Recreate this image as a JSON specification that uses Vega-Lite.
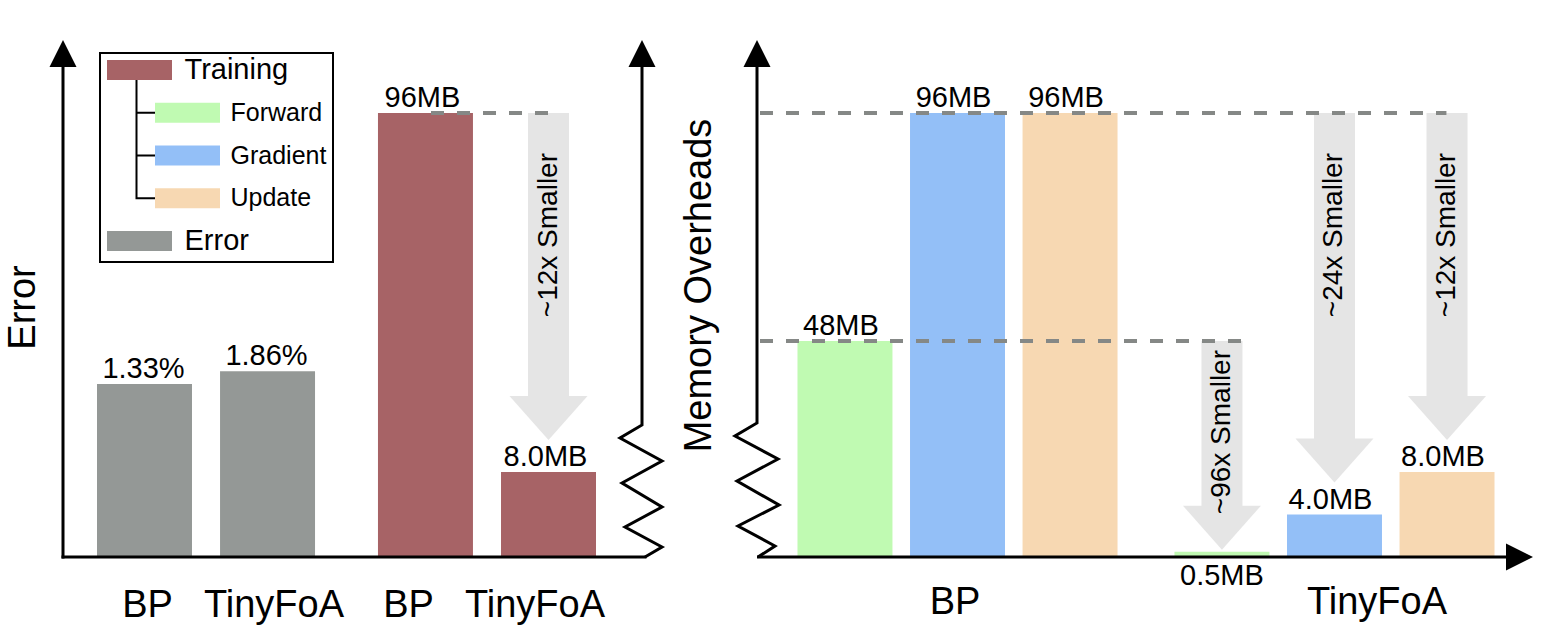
{
"$schema": "https://vega.github.io/schema/vega-lite/v6.json",
"width": 1562,
"height": 632,
"padding": 0,
"autosize": {"type": "none"},
"background": "white",
"config": {"view": {"stroke": null}, "text": {"font": "Liberation Sans", "color": "black"}},
"datasets": {
  "left": [
    {"metric": "Error", "method": "BP", "kind": "Error", "value": 1.33, "label": "1.33%"},
    {"metric": "Error", "method": "TinyFoA", "kind": "Error", "value": 1.86, "label": "1.86%"},
    {"metric": "Training", "method": "BP", "kind": "Training", "value": 96, "label": "96MB"},
    {"metric": "Training", "method": "TinyFoA", "kind": "Training", "value": 8, "label": "8.0MB"}
  ],
  "right": [
    {"method": "BP", "kind": "Forward", "value": 48, "label": "48MB"},
    {"method": "BP", "kind": "Gradient", "value": 96, "label": "96MB"},
    {"method": "BP", "kind": "Update", "value": 96, "label": "96MB"},
    {"method": "TinyFoA", "kind": "Forward", "value": 0.5, "label": "0.5MB"},
    {"method": "TinyFoA", "kind": "Gradient", "value": 4, "label": "4.0MB"},
    {"method": "TinyFoA", "kind": "Update", "value": 8, "label": "8.0MB"}
  ],
  "arrows": [
    {"panel": "left", "metric": "Training", "method": "TinyFoA", "kind": "Training", "from": 96, "to": 8, "label": "~12x Smaller"},
    {"panel": "right", "method": "TinyFoA", "kind": "Forward", "from": 48, "to": 0.5, "label": "~96x Smaller"},
    {"panel": "right", "method": "TinyFoA", "kind": "Gradient", "from": 96, "to": 4, "label": "~24x Smaller"},
    {"panel": "right", "method": "TinyFoA", "kind": "Update", "from": 96, "to": 8, "label": "~12x Smaller"}
  ],
  "legend": [
    {"kind": "Training", "level": "top"},
    {"kind": "Forward", "level": "sub"},
    {"kind": "Gradient", "level": "sub"},
    {"kind": "Update", "level": "sub"},
    {"kind": "Error", "level": "top"}
  ],
  "frame": [{}]
},
"resolve": {"scale": {"x": "independent", "y": "independent", "xOffset": "independent"}},
"layer": [
  {
    "data": {"name": "left"},
    "transform": [{"filter": "datum.metric === 'Error'"}],
    "mark": {"type": "bar"},
    "encoding": {
      "x": {"field": "metric", "type": "nominal", "scale": {"type": "band", "domain": ["Error", "Training"], "range": [63, 630], "paddingInner": 0.224, "paddingOuter": 0.121}, "axis": null},
      "xOffset": {"field": "method", "type": "nominal", "scale": {"type": "band", "domain": ["BP", "TinyFoA"], "paddingInner": 0.228, "paddingOuter": 0}},
      "y": {"field": "value", "type": "quantitative", "scale": {"domain": [0, 1, 2], "range": [557, 392, 368], "nice": false, "zero": false}, "axis": null},
      "color": {"field": "kind", "type": "nominal", "scale": {"domain": ["Training", "Forward", "Gradient", "Update", "Error"], "range": ["#a76366", "#c0fab2", "#93bff7", "#f7d8b2", "#949896"]}, "legend": null}
    }
  },
  {
    "data": {"name": "left"},
    "transform": [{"filter": "datum.metric === 'Error'"}],
    "mark": {"type": "text", "fontSize": 29, "dy": -6, "dx": -1, "baseline": "alphabetic", "align": "center"},
    "encoding": {
      "x": {"field": "metric", "type": "nominal", "scale": {"type": "band", "domain": ["Error", "Training"], "range": [63, 630], "paddingInner": 0.224, "paddingOuter": 0.121}, "axis": null},
      "xOffset": {"field": "method", "type": "nominal", "scale": {"type": "band", "domain": ["BP", "TinyFoA"], "paddingInner": 0.228, "paddingOuter": 0}},
      "y": {"field": "value", "type": "quantitative", "scale": {"domain": [0, 1, 2], "range": [557, 392, 368], "nice": false, "zero": false}, "axis": null},
      "text": {"field": "label"}
    }
  },
  {
    "data": {"name": "left"},
    "transform": [{"filter": "datum.metric === 'Training'"}],
    "mark": {"type": "bar"},
    "encoding": {
      "x": {"field": "metric", "type": "nominal", "scale": {"type": "band", "domain": ["Error", "Training"], "range": [63, 630], "paddingInner": 0.224, "paddingOuter": 0.121}, "axis": null},
      "xOffset": {"field": "method", "type": "nominal", "scale": {"type": "band", "domain": ["BP", "TinyFoA"], "paddingInner": 0.228, "paddingOuter": 0}},
      "y": {"field": "value", "type": "quantitative", "scale": {"domain": [0, 8, 48, 96], "range": [557, 472, 341, 113], "nice": false, "zero": false}, "axis": null},
      "color": {"field": "kind", "type": "nominal", "scale": {"domain": ["Training", "Forward", "Gradient", "Update", "Error"], "range": ["#a76366", "#c0fab2", "#93bff7", "#f7d8b2", "#949896"]}, "legend": null}
    }
  },
  {
    "data": {"name": "left"},
    "transform": [{"filter": "datum.metric === 'Training'"}],
    "mark": {"type": "text", "fontSize": 29, "dy": -6, "dx": -3, "baseline": "alphabetic", "align": "center"},
    "encoding": {
      "x": {"field": "metric", "type": "nominal", "scale": {"type": "band", "domain": ["Error", "Training"], "range": [63, 630], "paddingInner": 0.224, "paddingOuter": 0.121}, "axis": null},
      "xOffset": {"field": "method", "type": "nominal", "scale": {"type": "band", "domain": ["BP", "TinyFoA"], "paddingInner": 0.228, "paddingOuter": 0}},
      "y": {"field": "value", "type": "quantitative", "scale": {"domain": [0, 8, 48, 96], "range": [557, 472, 341, 113], "nice": false, "zero": false}, "axis": null},
      "text": {"field": "label"}
    }
  },
  {
    "data": {"name": "arrows"},
    "transform": [{"filter": "datum.panel === 'left'"}],
    "mark": {"type": "rule", "strokeWidth": 41, "color": "#e5e5e5", "y2Offset": -75},
    "encoding": {
      "x": {"field": "metric", "type": "nominal", "scale": {"type": "band", "domain": ["Error", "Training"], "range": [63, 630], "paddingInner": 0.224, "paddingOuter": 0.121}, "axis": null},
      "xOffset": {"field": "method", "type": "nominal", "scale": {"type": "band", "domain": ["BP", "TinyFoA"], "paddingInner": 0.228, "paddingOuter": 0}},
      "y": {"field": "from", "type": "quantitative", "scale": {"domain": [0, 8, 48, 96], "range": [557, 472, 341, 113], "nice": false, "zero": false}, "axis": null},
      "y2": {"field": "to"}
    }
  },
  {
    "data": {"name": "arrows"},
    "transform": [{"filter": "datum.panel === 'left'"}],
    "mark": {"type": "point", "shape": "M-39,-44H39L0,0Z", "size": 4, "filled": true, "color": "#e5e5e5", "opacity": 1, "yOffset": -32},
    "encoding": {
      "x": {"field": "metric", "type": "nominal", "scale": {"type": "band", "domain": ["Error", "Training"], "range": [63, 630], "paddingInner": 0.224, "paddingOuter": 0.121}, "axis": null},
      "xOffset": {"field": "method", "type": "nominal", "scale": {"type": "band", "domain": ["BP", "TinyFoA"], "paddingInner": 0.228, "paddingOuter": 0}},
      "y": {"field": "to", "type": "quantitative", "scale": {"domain": [0, 8, 48, 96], "range": [557, 472, 341, 113], "nice": false, "zero": false}, "axis": null}
    }
  },
  {
    "data": {"name": "arrows"},
    "transform": [{"filter": "datum.panel === 'left'"}],
    "mark": {"type": "text", "fontSize": 28, "angle": 270, "align": "right", "baseline": "middle", "yOffset": 40, "xOffset": 5},
    "encoding": {
      "x": {"field": "metric", "type": "nominal", "scale": {"type": "band", "domain": ["Error", "Training"], "range": [63, 630], "paddingInner": 0.224, "paddingOuter": 0.121}, "axis": null},
      "xOffset": {"field": "method", "type": "nominal", "scale": {"type": "band", "domain": ["BP", "TinyFoA"], "paddingInner": 0.228, "paddingOuter": 0}},
      "y": {"field": "from", "type": "quantitative", "scale": {"domain": [0, 8, 48, 96], "range": [557, 472, 341, 113], "nice": false, "zero": false}, "axis": null},
      "text": {"field": "label"}
    }
  },
  {
    "data": {"name": "frame"},
    "mark": {"type": "rule", "strokeWidth": 4, "color": "#858886", "strokeDash": [13, 13]},
    "encoding": {
      "x": {"datum": 0.6356, "type": "quantitative", "scale": {"domain": [0, 1], "range": [63, 642], "nice": false, "zero": false}, "axis": null},
      "x2": {"datum": 0.841},
      "y": {"datum": 96, "type": "quantitative", "scale": {"domain": [0, 8, 48, 96], "range": [557, 472, 341, 113], "nice": false, "zero": false}, "axis": null}
    }
  },
  {
    "data": {"name": "left"},
    "mark": {"type": "text", "fontSize": 38, "dy": 60, "baseline": "alphabetic", "align": "center"},
    "encoding": {
      "x": {"field": "metric", "type": "nominal", "scale": {"type": "band", "domain": ["Error", "Training"], "range": [63, 619.5], "paddingInner": 0.1276, "paddingOuter": 0.13}, "axis": null},
      "xOffset": {"field": "method", "type": "nominal", "scale": {"type": "band", "domain": ["BP", "TinyFoA"], "paddingInner": 0.2, "paddingOuter": 0}},
      "y": {"datum": 0, "type": "quantitative", "scale": {"domain": [0, 8, 48, 96], "range": [557, 472, 341, 113], "nice": false, "zero": false}, "axis": null},
      "text": {"field": "method"}
    }
  },
  {
    "data": {"name": "frame"},
    "mark": {"type": "rule", "strokeWidth": 3, "color": "black", "strokeCap": "square", "y2Offset": 15},
    "encoding": {
      "x": {"datum": 0, "type": "quantitative", "scale": {"domain": [0, 1], "range": [63, 642], "nice": false, "zero": false}, "axis": null},
      "y": {"datum": 0, "type": "quantitative", "scale": {"domain": [0, 1], "range": [557, 40], "nice": false, "zero": false}, "axis": null},
      "y2": {"datum": 1}
    }
  },
  {
    "data": {"name": "frame"},
    "mark": {"type": "rule", "strokeWidth": 3, "color": "black", "strokeCap": "square", "x2Offset": 3},
    "encoding": {
      "x": {"datum": 0, "type": "quantitative", "scale": {"domain": [0, 1], "range": [63, 642], "nice": false, "zero": false}, "axis": null},
      "x2": {"datum": 1},
      "y": {"datum": 0, "type": "quantitative", "scale": {"domain": [0, 1], "range": [557, 40], "nice": false, "zero": false}, "axis": null}
    }
  },
  {
    "data": {"name": "frame"},
    "mark": {"type": "point", "shape": "M0,-500V-132L-22,-119L20,-96L-20,-74L20,-50L-17,-30L20,-10L3,0", "size": 4, "filled": false, "stroke": "black", "strokeWidth": 3, "opacity": 1, "strokeJoin": "miter"},
    "encoding": {
      "x": {"datum": 1, "type": "quantitative", "scale": {"domain": [0, 1], "range": [63, 642], "nice": false, "zero": false}, "axis": null},
      "y": {"datum": 0, "type": "quantitative", "scale": {"domain": [0, 1], "range": [557, 40], "nice": false, "zero": false}, "axis": null}
    }
  },
  {
    "data": {"name": "frame"},
    "mark": {"type": "point", "shape": "M0,0L13.5,27H-13.5Z", "size": 4, "filled": true, "color": "black", "opacity": 1},
    "encoding": {
      "x": {"datum": 0, "type": "quantitative", "scale": {"domain": [0, 1], "range": [63, 642], "nice": false, "zero": false}, "axis": null},
      "y": {"datum": 1, "type": "quantitative", "scale": {"domain": [0, 1], "range": [557, 40], "nice": false, "zero": false}, "axis": null}
    }
  },
  {
    "data": {"name": "frame"},
    "mark": {"type": "point", "shape": "M0,0L13.5,27H-13.5Z", "size": 4, "filled": true, "color": "black", "opacity": 1},
    "encoding": {
      "x": {"datum": 1, "type": "quantitative", "scale": {"domain": [0, 1], "range": [63, 642], "nice": false, "zero": false}, "axis": null},
      "y": {"datum": 1, "type": "quantitative", "scale": {"domain": [0, 1], "range": [557, 40], "nice": false, "zero": false}, "axis": null}
    }
  },
  {
    "data": {"name": "frame"},
    "mark": {"type": "text", "text": "Error", "fontSize": 38, "angle": 270, "align": "center", "baseline": "middle", "xOffset": -39, "yOffset": 9},
    "encoding": {
      "x": {"datum": 0, "type": "quantitative", "scale": {"domain": [0, 1], "range": [63, 642], "nice": false, "zero": false}, "axis": null},
      "y": {"datum": 0.5, "type": "quantitative", "scale": {"domain": [0, 1], "range": [557, 40], "nice": false, "zero": false}, "axis": null}
    }
  },
  {
    "data": {"name": "legend"},
    "transform": [{"filter": "datum.kind === 'Training'"}],
    "mark": {"type": "point", "shape": "M-39.5,-17H193.5V192H-39.5Z", "size": 4, "filled": false, "stroke": "black", "strokeWidth": 2, "opacity": 1},
    "encoding": {
      "x": {"field": "level", "type": "nominal", "scale": {"type": "point", "domain": ["top", "sub"], "range": [139.5, 187.5], "padding": 0}, "axis": null},
      "y": {"field": "kind", "type": "nominal", "scale": {"type": "point", "domain": ["Training", "Forward", "Gradient", "Update", "Error"], "range": [70, 241], "padding": 0}, "axis": null}
    }
  },
  {
    "data": {"name": "legend"},
    "transform": [{"filter": "datum.kind === 'Training'"}],
    "mark": {"type": "point", "shape": "M-3,10V128.25H15.5M-3,42.75H15.5M-3,85.5H15.5", "size": 4, "filled": false, "stroke": "black", "strokeWidth": 2, "opacity": 1},
    "encoding": {
      "x": {"field": "level", "type": "nominal", "scale": {"type": "point", "domain": ["top", "sub"], "range": [139.5, 187.5], "padding": 0}, "axis": null},
      "y": {"field": "kind", "type": "nominal", "scale": {"type": "point", "domain": ["Training", "Forward", "Gradient", "Update", "Error"], "range": [70, 241], "padding": 0}, "axis": null}
    }
  },
  {
    "data": {"name": "legend"},
    "mark": {"type": "point", "shape": "M-32.5,-10H32.5V10H-32.5Z", "size": 4, "filled": true, "opacity": 1},
    "encoding": {
      "x": {"field": "level", "type": "nominal", "scale": {"type": "point", "domain": ["top", "sub"], "range": [139.5, 187.5], "padding": 0}, "axis": null},
      "y": {"field": "kind", "type": "nominal", "scale": {"type": "point", "domain": ["Training", "Forward", "Gradient", "Update", "Error"], "range": [70, 241], "padding": 0}, "axis": null},
      "color": {"field": "kind", "type": "nominal", "scale": {"domain": ["Training", "Forward", "Gradient", "Update", "Error"], "range": ["#a76366", "#c0fab2", "#93bff7", "#f7d8b2", "#949896"]}, "legend": null}
    }
  },
  {
    "data": {"name": "legend"},
    "transform": [{"filter": "datum.level === 'top'"}],
    "mark": {"type": "text", "fontSize": 29, "align": "left", "baseline": "middle", "dx": 45},
    "encoding": {
      "x": {"field": "level", "type": "nominal", "scale": {"type": "point", "domain": ["top", "sub"], "range": [139.5, 187.5], "padding": 0}, "axis": null},
      "y": {"field": "kind", "type": "nominal", "scale": {"type": "point", "domain": ["Training", "Forward", "Gradient", "Update", "Error"], "range": [70, 241], "padding": 0}, "axis": null},
      "text": {"field": "kind"}
    }
  },
  {
    "data": {"name": "legend"},
    "transform": [{"filter": "datum.level === 'sub'"}],
    "mark": {"type": "text", "fontSize": 25, "align": "left", "baseline": "middle", "dx": 43},
    "encoding": {
      "x": {"field": "level", "type": "nominal", "scale": {"type": "point", "domain": ["top", "sub"], "range": [139.5, 187.5], "padding": 0}, "axis": null},
      "y": {"field": "kind", "type": "nominal", "scale": {"type": "point", "domain": ["Training", "Forward", "Gradient", "Update", "Error"], "range": [70, 241], "padding": 0}, "axis": null},
      "text": {"field": "kind"}
    }
  },
  {
    "data": {"name": "right"},
    "mark": {"type": "bar"},
    "encoding": {
      "x": {"field": "method", "type": "nominal", "scale": {"type": "band", "domain": ["BP", "TinyFoA"], "range": [757, 1535], "paddingInner": 0.151, "paddingOuter": 0.1074}, "axis": null},
      "xOffset": {"field": "kind", "type": "nominal", "scale": {"type": "band", "domain": ["Forward", "Gradient", "Update"], "paddingInner": 0.156, "paddingOuter": 0}},
      "y": {"field": "value", "type": "quantitative", "scale": {"domain": [0, 8, 48, 96], "range": [557, 472, 341, 113], "nice": false, "zero": false}, "axis": null},
      "color": {"field": "kind", "type": "nominal", "scale": {"domain": ["Training", "Forward", "Gradient", "Update", "Error"], "range": ["#a76366", "#c0fab2", "#93bff7", "#f7d8b2", "#949896"]}, "legend": null}
    }
  },
  {
    "data": {"name": "right"},
    "transform": [{"filter": "datum.value >= 1"}],
    "mark": {"type": "text", "fontSize": 29, "dy": -6, "dx": -4, "baseline": "alphabetic", "align": "center"},
    "encoding": {
      "x": {"field": "method", "type": "nominal", "scale": {"type": "band", "domain": ["BP", "TinyFoA"], "range": [757, 1535], "paddingInner": 0.151, "paddingOuter": 0.1074}, "axis": null},
      "xOffset": {"field": "kind", "type": "nominal", "scale": {"type": "band", "domain": ["Forward", "Gradient", "Update"], "paddingInner": 0.156, "paddingOuter": 0}},
      "y": {"field": "value", "type": "quantitative", "scale": {"domain": [0, 8, 48, 96], "range": [557, 472, 341, 113], "nice": false, "zero": false}, "axis": null},
      "text": {"field": "label"}
    }
  },
  {
    "data": {"name": "right"},
    "transform": [{"filter": "datum.value < 1"}],
    "mark": {"type": "text", "fontSize": 29, "dy": 33, "baseline": "alphabetic", "align": "center"},
    "encoding": {
      "x": {"field": "method", "type": "nominal", "scale": {"type": "band", "domain": ["BP", "TinyFoA"], "range": [757, 1535], "paddingInner": 0.151, "paddingOuter": 0.1074}, "axis": null},
      "xOffset": {"field": "kind", "type": "nominal", "scale": {"type": "band", "domain": ["Forward", "Gradient", "Update"], "paddingInner": 0.156, "paddingOuter": 0}},
      "y": {"field": "value", "type": "quantitative", "scale": {"domain": [0, 8, 48, 96], "range": [557, 472, 341, 113], "nice": false, "zero": false}, "axis": null},
      "text": {"field": "label"}
    }
  },
  {
    "data": {"name": "arrows"},
    "transform": [{"filter": "datum.panel === 'right' && datum.to >= 1"}],
    "mark": {"type": "rule", "strokeWidth": 41, "color": "#e5e5e5", "y2Offset": -75},
    "encoding": {
      "x": {"field": "method", "type": "nominal", "scale": {"type": "band", "domain": ["BP", "TinyFoA"], "range": [757, 1535], "paddingInner": 0.151, "paddingOuter": 0.1074}, "axis": null},
      "xOffset": {"field": "kind", "type": "nominal", "scale": {"type": "band", "domain": ["Forward", "Gradient", "Update"], "paddingInner": 0.156, "paddingOuter": 0}},
      "y": {"field": "from", "type": "quantitative", "scale": {"domain": [0, 8, 48, 96], "range": [557, 472, 341, 113], "nice": false, "zero": false}, "axis": null},
      "y2": {"field": "to"}
    }
  },
  {
    "data": {"name": "arrows"},
    "transform": [{"filter": "datum.panel === 'right' && datum.to >= 1"}],
    "mark": {"type": "point", "shape": "M-39,-44H39L0,0Z", "size": 4, "filled": true, "color": "#e5e5e5", "opacity": 1, "yOffset": -32},
    "encoding": {
      "x": {"field": "method", "type": "nominal", "scale": {"type": "band", "domain": ["BP", "TinyFoA"], "range": [757, 1535], "paddingInner": 0.151, "paddingOuter": 0.1074}, "axis": null},
      "xOffset": {"field": "kind", "type": "nominal", "scale": {"type": "band", "domain": ["Forward", "Gradient", "Update"], "paddingInner": 0.156, "paddingOuter": 0}},
      "y": {"field": "to", "type": "quantitative", "scale": {"domain": [0, 8, 48, 96], "range": [557, 472, 341, 113], "nice": false, "zero": false}, "axis": null}
    }
  },
  {
    "data": {"name": "arrows"},
    "transform": [{"filter": "datum.panel === 'right' && datum.to < 1"}],
    "mark": {"type": "rule", "strokeWidth": 41, "color": "#e5e5e5", "y2Offset": -45},
    "encoding": {
      "x": {"field": "method", "type": "nominal", "scale": {"type": "band", "domain": ["BP", "TinyFoA"], "range": [757, 1535], "paddingInner": 0.151, "paddingOuter": 0.1074}, "axis": null},
      "xOffset": {"field": "kind", "type": "nominal", "scale": {"type": "band", "domain": ["Forward", "Gradient", "Update"], "paddingInner": 0.156, "paddingOuter": 0}},
      "y": {"field": "from", "type": "quantitative", "scale": {"domain": [0, 8, 48, 96], "range": [557, 472, 341, 113], "nice": false, "zero": false}, "axis": null},
      "y2": {"field": "to"}
    }
  },
  {
    "data": {"name": "arrows"},
    "transform": [{"filter": "datum.panel === 'right' && datum.to < 1"}],
    "mark": {"type": "point", "shape": "M-39,-44H39L0,0Z", "size": 4, "filled": true, "color": "#e5e5e5", "opacity": 1, "yOffset": -2},
    "encoding": {
      "x": {"field": "method", "type": "nominal", "scale": {"type": "band", "domain": ["BP", "TinyFoA"], "range": [757, 1535], "paddingInner": 0.151, "paddingOuter": 0.1074}, "axis": null},
      "xOffset": {"field": "kind", "type": "nominal", "scale": {"type": "band", "domain": ["Forward", "Gradient", "Update"], "paddingInner": 0.156, "paddingOuter": 0}},
      "y": {"field": "to", "type": "quantitative", "scale": {"domain": [0, 8, 48, 96], "range": [557, 472, 341, 113], "nice": false, "zero": false}, "axis": null}
    }
  },
  {
    "data": {"name": "arrows"},
    "transform": [{"filter": "datum.panel === 'right' && datum.to >= 1"}],
    "mark": {"type": "text", "fontSize": 28, "angle": 270, "align": "right", "baseline": "middle", "yOffset": 40, "xOffset": 5},
    "encoding": {
      "x": {"field": "method", "type": "nominal", "scale": {"type": "band", "domain": ["BP", "TinyFoA"], "range": [757, 1535], "paddingInner": 0.151, "paddingOuter": 0.1074}, "axis": null},
      "xOffset": {"field": "kind", "type": "nominal", "scale": {"type": "band", "domain": ["Forward", "Gradient", "Update"], "paddingInner": 0.156, "paddingOuter": 0}},
      "y": {"field": "from", "type": "quantitative", "scale": {"domain": [0, 8, 48, 96], "range": [557, 472, 341, 113], "nice": false, "zero": false}, "axis": null},
      "text": {"field": "label"}
    }
  },
  {
    "data": {"name": "arrows"},
    "transform": [{"filter": "datum.panel === 'right' && datum.to < 1"}],
    "mark": {"type": "text", "fontSize": 28, "angle": 270, "align": "right", "baseline": "middle", "yOffset": 9, "xOffset": 3},
    "encoding": {
      "x": {"field": "method", "type": "nominal", "scale": {"type": "band", "domain": ["BP", "TinyFoA"], "range": [757, 1535], "paddingInner": 0.151, "paddingOuter": 0.1074}, "axis": null},
      "xOffset": {"field": "kind", "type": "nominal", "scale": {"type": "band", "domain": ["Forward", "Gradient", "Update"], "paddingInner": 0.156, "paddingOuter": 0}},
      "y": {"field": "from", "type": "quantitative", "scale": {"domain": [0, 8, 48, 96], "range": [557, 472, 341, 113], "nice": false, "zero": false}, "axis": null},
      "text": {"field": "label"}
    }
  },
  {
    "data": {"name": "frame"},
    "mark": {"type": "rule", "strokeWidth": 4, "color": "#858886", "strokeDash": [13, 13]},
    "encoding": {
      "x": {"datum": 0, "type": "quantitative", "scale": {"domain": [0, 1], "range": [760, 1533], "nice": false, "zero": false}, "axis": null},
      "x2": {"datum": 0.888},
      "y": {"datum": 96, "type": "quantitative", "scale": {"domain": [0, 8, 48, 96], "range": [557, 472, 341, 113], "nice": false, "zero": false}, "axis": null}
    }
  },
  {
    "data": {"name": "frame"},
    "mark": {"type": "rule", "strokeWidth": 4, "color": "#858886", "strokeDash": [13, 13]},
    "encoding": {
      "x": {"datum": 0, "type": "quantitative", "scale": {"domain": [0, 1], "range": [760, 1533], "nice": false, "zero": false}, "axis": null},
      "x2": {"datum": 0.6235},
      "y": {"datum": 48, "type": "quantitative", "scale": {"domain": [0, 8, 48, 96], "range": [557, 472, 341, 113], "nice": false, "zero": false}, "axis": null}
    }
  },
  {
    "data": {"name": "right"},
    "transform": [{"filter": "datum.kind === 'Gradient'"}],
    "mark": {"type": "text", "fontSize": 38, "dy": 57, "baseline": "alphabetic", "align": "center"},
    "encoding": {
      "x": {"field": "method", "type": "nominal", "scale": {"type": "point", "domain": ["BP", "TinyFoA"], "range": [955, 1377], "padding": 0}, "axis": null},
      "y": {"datum": 0, "type": "quantitative", "scale": {"domain": [0, 8, 48, 96], "range": [557, 472, 341, 113], "nice": false, "zero": false}, "axis": null},
      "text": {"field": "method"}
    }
  },
  {
    "data": {"name": "frame"},
    "mark": {"type": "point", "shape": "M0,-500V-134L-22,-121L21,-98L-20,-76L22,-52L-19,-31L18,-11L1,0", "size": 4, "filled": false, "stroke": "black", "strokeWidth": 3, "opacity": 1, "strokeJoin": "miter"},
    "encoding": {
      "x": {"datum": 0, "type": "quantitative", "scale": {"domain": [0, 1], "range": [757, 1533], "nice": false, "zero": false}, "axis": null},
      "y": {"datum": 0, "type": "quantitative", "scale": {"domain": [0, 1], "range": [557, 40], "nice": false, "zero": false}, "axis": null}
    }
  },
  {
    "data": {"name": "frame"},
    "mark": {"type": "rule", "strokeWidth": 3, "color": "black", "x2Offset": -20},
    "encoding": {
      "x": {"datum": 0, "type": "quantitative", "scale": {"domain": [0, 1], "range": [757, 1533], "nice": false, "zero": false}, "axis": null},
      "x2": {"datum": 1},
      "y": {"datum": 0, "type": "quantitative", "scale": {"domain": [0, 1], "range": [557, 40], "nice": false, "zero": false}, "axis": null}
    }
  },
  {
    "data": {"name": "frame"},
    "mark": {"type": "point", "shape": "M0,0L13.5,27H-13.5Z", "size": 4, "filled": true, "color": "black", "opacity": 1},
    "encoding": {
      "x": {"datum": 0, "type": "quantitative", "scale": {"domain": [0, 1], "range": [757, 1533], "nice": false, "zero": false}, "axis": null},
      "y": {"datum": 1, "type": "quantitative", "scale": {"domain": [0, 1], "range": [557, 40], "nice": false, "zero": false}, "axis": null}
    }
  },
  {
    "data": {"name": "frame"},
    "mark": {"type": "point", "shape": "M0,0L-27,-13.5V13.5Z", "size": 4, "filled": true, "color": "black", "opacity": 1},
    "encoding": {
      "x": {"datum": 1, "type": "quantitative", "scale": {"domain": [0, 1], "range": [757, 1533], "nice": false, "zero": false}, "axis": null},
      "y": {"datum": 0, "type": "quantitative", "scale": {"domain": [0, 1], "range": [557, 40], "nice": false, "zero": false}, "axis": null}
    }
  },
  {
    "data": {"name": "frame"},
    "mark": {"type": "text", "text": "Memory Overheads", "fontSize": 38, "angle": 270, "align": "center", "baseline": "middle", "xOffset": -57, "yOffset": -13},
    "encoding": {
      "x": {"datum": 0, "type": "quantitative", "scale": {"domain": [0, 1], "range": [757, 1533], "nice": false, "zero": false}, "axis": null},
      "y": {"datum": 0.5, "type": "quantitative", "scale": {"domain": [0, 1], "range": [557, 40], "nice": false, "zero": false}, "axis": null}
    }
  }
]
}
